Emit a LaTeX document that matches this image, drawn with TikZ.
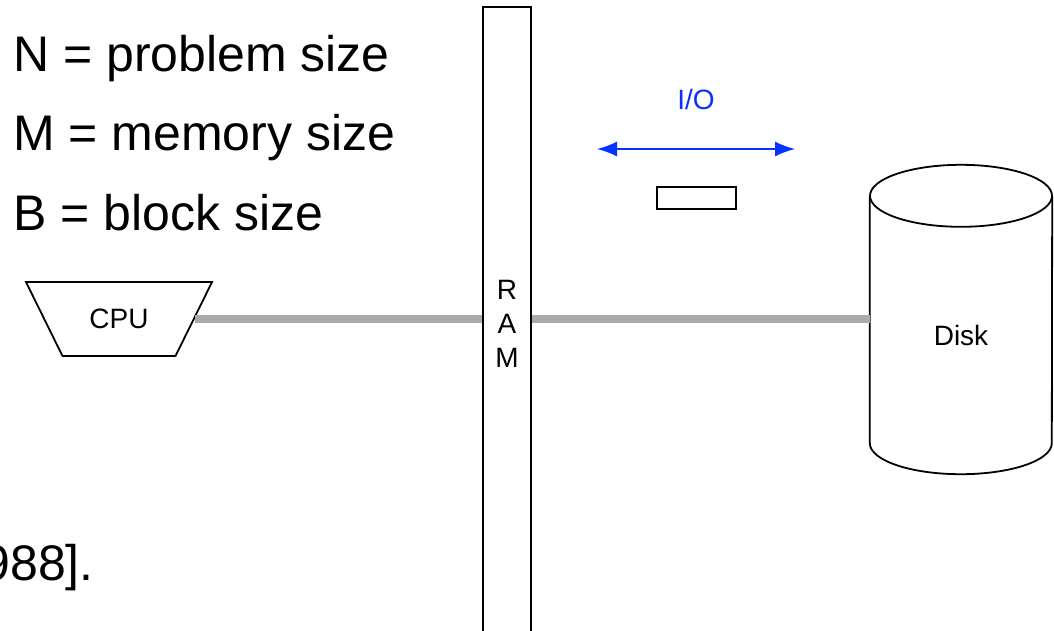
\documentclass[tikz,border=0pt]{standalone}
\usepackage{fontspec}
\setmainfont{Liberation Sans}
\usetikzlibrary{arrows.meta,shapes.geometric,positioning}
\definecolor{iocol}{RGB}{10,50,255}
\definecolor{buscol}{RGB}{170,170,170}
\newcommand{\bigtxt}{\fontsize{50}{60}\selectfont}
\newcommand{\smalltxt}{\fontsize{28}{34}\selectfont}

\begin{document}
\begin{tikzpicture}[x=1pt,y=-1pt,
  box/.style={draw,line width=1.8pt,inner sep=0pt},
  bus/.style={draw=buscol,line width=7.5pt},
  legend/.style={anchor=base west,inner sep=0pt,font=\bigtxt},
  lbl/.style={inner sep=0pt,font=\smalltxt}]
\useasboundingbox (0,0) rectangle (1054,630);
% parameters
\node (nsize) [legend] at (13,71) {N = problem size};
\node (msize) [legend] at (13,150) {M = memory size};
\node (bsize) [legend] at (13,230) {B = block size};
\node (cite) [anchor=base east,inner sep=0pt,font=\bigtxt] at (94,580) {988].};
% cpu and memory
\node (cpu) [box,lbl,trapezium,shape border rotate=180,trapezium left angle=63.7,
  trapezium right angle=63.7,trapezium stretches body,inner ysep=27pt,
  minimum width=186pt] at (119,319) {CPU};
\node (ram) [box,lbl,align=center,minimum width=48pt,minimum height=633pt] at (507,323.5) {R\\A\\M};
% disk
\node (disk) [lbl,minimum width=182pt,minimum height=278pt] at (961,335) {Disk};
\draw [line width=1.8pt] (disk.north west) -- ([yshift=31pt]disk.south west)
  arc[start angle=180,end angle=360,x radius=91pt,y radius=31pt] -- (disk.north east);
\draw [line width=1.8pt] (disk.north) ellipse [x radius=91pt,y radius=31pt];
% buses
\draw [bus] (cpu.east) -- (cpu.east -| ram.west);
\draw [bus] (cpu.east -| ram.east) -- (cpu.east -| disk.west);
% transfer of one block
\node (io) [lbl,text=iocol] at (696,99) {I/O};
\coordinate (iol) at (597,149);
\coordinate (ior) at (795,149);
\draw [iocol,line width=1.5pt,{Latex[length=20pt,width=15pt]}-{Latex[length=20pt,width=15pt]}] (iol) -- (ior);
\node (blk) [box,line width=1.5pt,minimum width=79pt,minimum height=22pt] at (696.5,198) {};
\end{tikzpicture}
\end{document}
